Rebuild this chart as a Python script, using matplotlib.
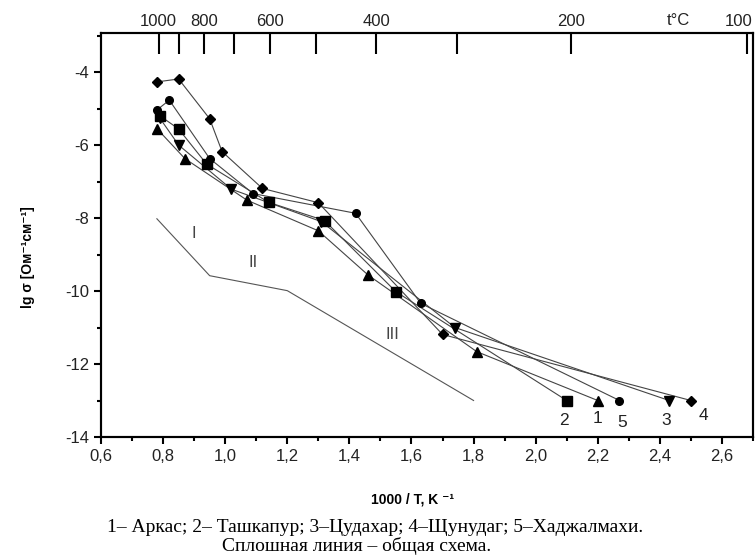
import numpy as np
import matplotlib
matplotlib.use("Agg")
import matplotlib.pyplot as plt
import matplotlib.transforms as mtransforms
from matplotlib.ticker import MultipleLocator

plt.rcParams['font.family'] = ['Liberation Sans', 'DejaVu Sans']

# 1 - Аркас (triangles up)
x1 = [0.78, 0.87, 1.07, 1.30, 1.46, 1.81, 2.20]
y1 = [-5.55, -6.37, -7.51, -8.35, -9.56, -11.66, -13.0]
# 2 - Ташкапур (squares)
x2 = [0.79, 0.85, 0.94, 1.14, 1.32, 1.55, 2.10]
y2 = [-5.2, -5.56, -6.52, -7.57, -8.07, -10.02, -13.0]
# 3 - Цудахар (triangles down)
x3 = [0.79, 0.85, 1.02, 1.31, 1.74, 2.43]
y3 = [-5.27, -6.0, -7.21, -8.10, -11.0, -13.0]
# 4 - Щунудаг (diamonds)
x4 = [0.78, 0.85, 0.95, 0.99, 1.12, 1.30, 1.70, 2.50]
y4 = [-4.27, -4.19, -5.28, -6.18, -7.19, -7.58, -11.19, -13.0]
# 5 - Хаджалмахи (circles)
x5 = [0.78, 0.82, 0.95, 1.09, 1.42, 1.63, 2.27]
y5 = [-5.04, -4.77, -6.37, -7.33, -7.87, -10.34, -13.0]

# general scheme
xs = [0.78, 0.95, 1.20, 1.80]
ys = [-8.02, -9.58, -9.99, -13.0]

series = [(x1, y1, '^', '1'), (x2, y2, 's', '2'), (x3, y3, 'v', '3'),
          (x4, y4, 'D', '4'), (x5, y5, 'o', '5')]
num_pos = {'1': (2.20, -13.48), '2': (2.09, -13.54), '3': (2.42, -13.54),
           '4': (2.54, -13.41), '5': (2.28, -13.6)}
regions = [('I', 0.90, -8.42), ('II', 1.09, -9.21), ('III', 1.54, -11.2)]

temps = [1000, 900, 800, 700, 600, 500, 400, 300, 200, 100]
temp_labels = ['1000', '', '800', '', '600', '', '400', '', '200', '100']

fig = plt.figure(figsize=(7.56, 5.6), dpi=100)
ax = fig.add_axes([101/756, 1-437/560, 652/756, 404/560])

for x, y, m, lab in series:
    ms = 5.5 if m in ('D', 'o') else 6.5
    ax.plot(x, y, color='#444444', lw=0.8, zorder=2)
    ax.plot(x, y, linestyle='none', marker=m, ms=ms, color='black', zorder=3)
    tx, ty = num_pos[lab]
    ax.text(tx, ty, lab, fontsize=12.5, ha='center', va='center', color='#222222')

ax.plot(xs, ys, color='#555555', lw=0.8)
for lab, tx, ty in regions:
    ax.text(tx, ty, lab, fontsize=12, ha='center', va='center', color='#444444')

ax.set_xlim(0.6, 2.7)
ax.set_ylim(-14, -2.93)
ax.xaxis.set_minor_locator(MultipleLocator(0.1))
ax.yaxis.set_minor_locator(MultipleLocator(1))
xt = np.arange(0.6, 2.61, 0.2)
ax.set_xticks(xt)
ax.set_xticklabels([f"{v:.1f}".replace('.', ',') for v in xt])
yt = np.arange(-14, -3, 2)
ax.set_yticks(yt)
ax.set_yticklabels([str(int(v)) for v in yt])
ax.set_xlim(0.6, 2.7)
ax.tick_params(axis='both', which='major', direction='out', length=5, width=1.5,
               labelsize=12, labelcolor='#222222', top=False, right=False)
ax.tick_params(axis='both', which='minor', direction='out', length=3, width=1.5,
               top=False, right=False)
for s in ax.spines.values():
    s.set_linewidth(1.5)

ax2 = ax.twiny()
ax2.set_xlim(0.6, 2.7)
ax2.set_xticks([1000 / (t + 273) for t in temps])
ax2.set_xticklabels(temp_labels)
ax2.tick_params(axis='x', direction='in', length=15, width=1.5, labelsize=12,
                labelcolor='#222222', pad=3)
lastlab = ax2.get_xticklabels()[-1]
lastlab.set_transform(lastlab.get_transform() +
                      mtransforms.ScaledTranslation(-8/100, 0, fig.dpi_scale_trans))
for s in ax2.spines.values():
    s.set_linewidth(1.5)
ax2.text(2.46, 1.032, 't°C', transform=ax2.get_xaxis_transform(), fontsize=12,
         ha='center', va='center', color='#222222')

fig.text(28/756, 1-257/560, 'lg σ [Ом⁻¹см⁻¹]', rotation=90, ha='center', va='center',
         fontsize=10, fontweight='bold')
fig.text(413/756, 1-500/560, '1000 / T, K ⁻¹', ha='center', va='center',
         fontsize=10, fontweight='bold')
serif = ['Liberation Serif', 'DejaVu Serif']
fig.text(0.496, 1-528/560, '1– Аркас; 2– Ташкапур; 3–Цудахар; 4–Щунудаг; 5–Хаджалмахи.',
         ha='center', va='center', fontsize=14, family=serif)
fig.text(0.472, 1-546/560, 'Сплошная линия – общая схема.',
         ha='center', va='center', fontsize=14, family=serif)

fig.savefig('out.png', dpi=100)
